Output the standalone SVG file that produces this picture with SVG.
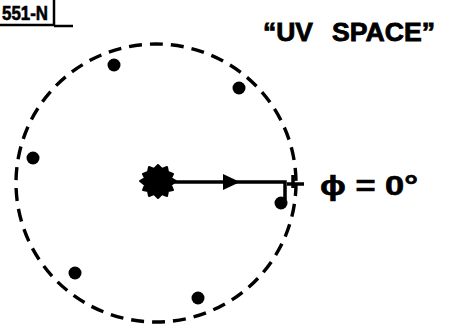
<svg xmlns="http://www.w3.org/2000/svg" width="449" height="332" viewBox="0 0 449 332">
<style>
.t{font-family:"Liberation Sans",Arial,sans-serif;font-weight:bold;fill:#000}
.ln{stroke:#000;stroke-width:3.5;fill:none}
.dot{fill:#000}
</style>
<rect width="449" height="332" fill="#fff"/>
<g id="label">
<rect x="-10" y="-3" width="64" height="28" fill="none" stroke="#000" stroke-width="2.5"/>
<line x1="54" y1="26" x2="73" y2="26" stroke="#000" stroke-width="2.5"/>
<text class="t" x="2" y="20" font-size="20" textLength="46" lengthAdjust="spacingAndGlyphs" stroke="#000" stroke-width="0.6">551-N</text>
</g>
<g id="title"><text class="t" y="41" font-size="25" stroke="#000" stroke-width="0.8"><tspan x="263" textLength="50" lengthAdjust="spacingAndGlyphs">“UV</tspan><tspan x="332" textLength="103" lengthAdjust="spacingAndGlyphs">SPACE”</tspan></text></g>
<g id="circle"><ellipse cx="156" cy="183" rx="140" ry="139" fill="none" stroke="#000" stroke-width="3.4" stroke-dasharray="13 8"/></g>
<g id="dots">
<circle class="dot" cx="114" cy="65" r="6.5"/>
<circle class="dot" cx="239" cy="88" r="6.5"/>
<circle class="dot" cx="33" cy="158" r="6.5"/>
<circle class="dot" cx="75" cy="273" r="6.5"/>
<circle class="dot" cx="198" cy="298" r="6.5"/>
<circle class="dot" cx="281" cy="203" r="6.5"/>
</g>
<g id="source">
<polygon fill="#000" stroke="#000" stroke-width="2" stroke-linejoin="round" points="158,165 162,169 167,167 168,172 173,174 171,178 176,181 171,185 173,190 168,191 167,196 162,194 158,198 154,194 149,196 148,191 143,190 145,185 140,181 145,178 143,174 148,172 149,167 154,169"/>
</g>
<g id="connectors">
<path class="ln" d="M170,182 L236,182"/>
<polygon fill="#000" points="223,174 240,182 223,190"/>
<path class="ln" d="M236,182 L285,182 L285,200"/>
<line class="ln" x1="293" y1="175" x2="293" y2="188" stroke-width="3"/>
<line class="ln" x1="287" y1="184" x2="304" y2="184" stroke-width="3"/>
</g>
<g id="phi"><text class="t" x="320" y="195" font-size="27" textLength="98" lengthAdjust="spacingAndGlyphs" stroke="#000" stroke-width="0.6">ϕ = 0°</text></g>
</svg>
